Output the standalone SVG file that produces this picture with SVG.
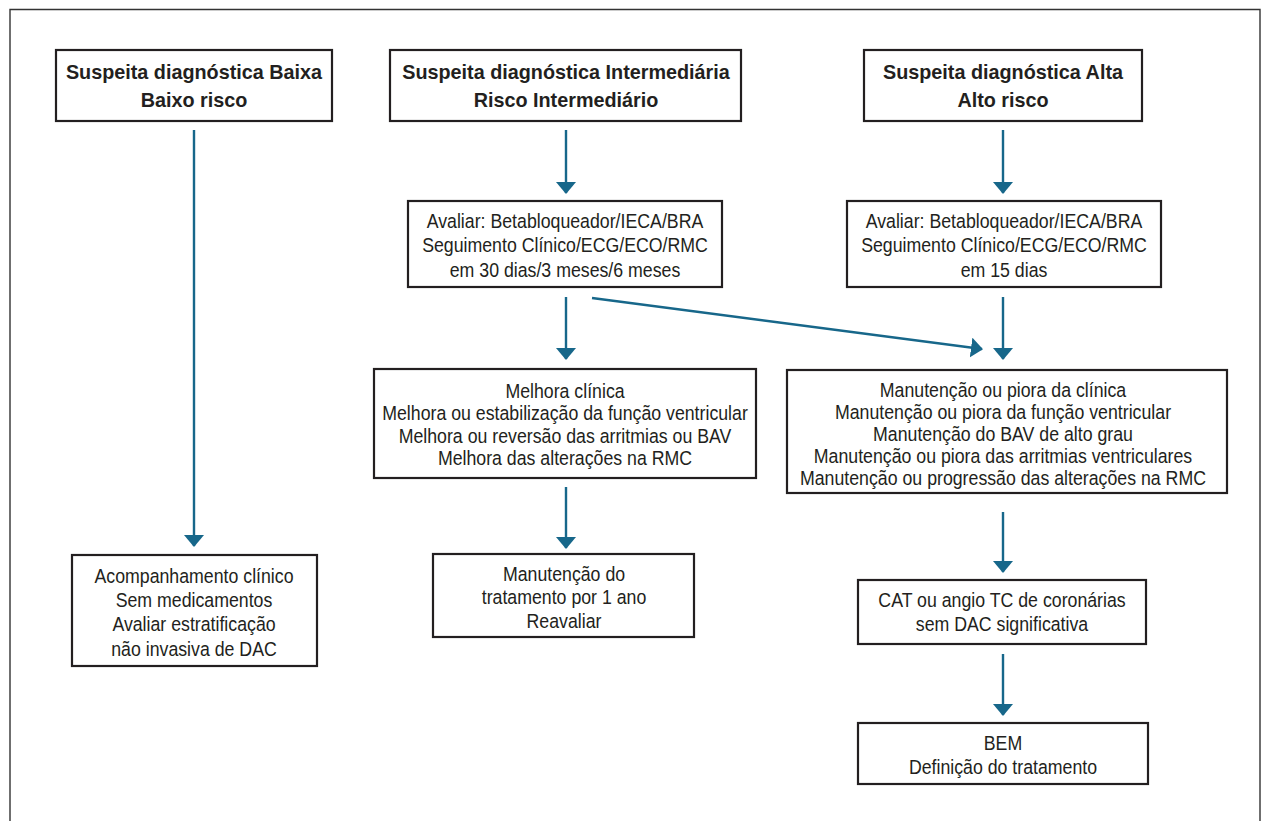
<svg xmlns="http://www.w3.org/2000/svg" width="1267" height="821" viewBox="0 0 1267 821">
  <style>
    .box { fill: #fff; stroke: #231f20; stroke-width: 2.2; }
    .t { font-family: "Liberation Sans", Arial, sans-serif; font-size: 19.5px; fill: #231f20; text-anchor: middle; }
    .b { font-family: "Liberation Sans", Arial, sans-serif; font-size: 19.8px; font-weight: bold; fill: #231f20; text-anchor: middle; }
    .c { stroke: #17678a; stroke-width: 2.4; fill: none; marker-end: url(#ah); }
  </style>
  <defs>
    <marker id="ah" viewBox="0 0 12 20" refX="11" refY="10" markerWidth="12" markerHeight="20" markerUnits="userSpaceOnUse" orient="auto">
      <path d="M0,0 L12,10 L0,20 Z" fill="#17678a"/>
    </marker>
  </defs>
  <rect width="1267" height="821" fill="#fff"/>
  <!-- outer frame -->
  <path d="M10,821 V9.5 H1260 V821" fill="none" stroke="#333" stroke-width="1.4"/>

  <g id="connectors">
    <line class="c" x1="194" y1="130" x2="194" y2="546"/>
    <line class="c" x1="566" y1="130" x2="566" y2="193"/>
    <line class="c" x1="1003" y1="130" x2="1003" y2="193"/>
    <line class="c" x1="566" y1="297" x2="566" y2="359"/>
    <line class="c" x1="1003" y1="297" x2="1003" y2="359"/>
    <line class="c" x1="592" y1="298" x2="982" y2="349"/>
    <line class="c" x1="566" y1="487" x2="566" y2="548"/>
    <line class="c" x1="1003" y1="512" x2="1003" y2="572"/>
    <line class="c" x1="1003" y1="654" x2="1003" y2="715"/>
  </g>

  <g id="n-baixa">
    <rect class="box" x="56" y="50" width="276" height="71"/>
    <text class="b" x="194" y="79">Suspeita diagnóstica Baixa</text>
    <text class="b" x="194" y="107">Baixo risco</text>
  </g>
  <g id="n-intermediaria">
    <rect class="box" x="390" y="50" width="351" height="71"/>
    <text class="b" x="566" y="79">Suspeita diagnóstica Intermediária</text>
    <text class="b" x="566" y="107">Risco Intermediário</text>
  </g>
  <g id="n-alta">
    <rect class="box" x="864" y="50" width="278" height="71"/>
    <text class="b" x="1003" y="79">Suspeita diagnóstica Alta</text>
    <text class="b" x="1003" y="107">Alto risco</text>
  </g>
  <g id="n-avaliar-int">
    <rect class="box" x="408" y="201" width="314" height="86"/>
    <text class="t" transform="translate(565 228) scale(0.91 1)">Avaliar: Betabloqueador/IECA/BRA</text>
    <text class="t" transform="translate(565 252) scale(0.91 1)">Seguimento Clínico/ECG/ECO/RMC</text>
    <text class="t" transform="translate(565 277) scale(0.91 1)">em 30 dias/3 meses/6 meses</text>
  </g>
  <g id="n-avaliar-alta">
    <rect class="box" x="847" y="201" width="314" height="86"/>
    <text class="t" transform="translate(1004 228) scale(0.91 1)">Avaliar: Betabloqueador/IECA/BRA</text>
    <text class="t" transform="translate(1004 252) scale(0.91 1)">Seguimento Clínico/ECG/ECO/RMC</text>
    <text class="t" transform="translate(1004 277) scale(0.91 1)">em 15 dias</text>
  </g>
  <g id="n-melhora">
    <rect class="box" x="374" y="369" width="382" height="109"/>
    <text class="t" transform="translate(565 398) scale(0.91 1)">Melhora clínica</text>
    <text class="t" transform="translate(565 420) scale(0.91 1)">Melhora ou estabilização da função ventricular</text>
    <text class="t" transform="translate(565 443) scale(0.91 1)">Melhora ou reversão das arritmias ou BAV</text>
    <text class="t" transform="translate(565 465) scale(0.91 1)">Melhora das alterações na RMC</text>
  </g>
  <g id="n-manutencao-piora">
    <rect class="box" x="787" y="370" width="440" height="123"/>
    <text class="t" transform="translate(1003 397) scale(0.91 1)">Manutenção ou piora da clínica</text>
    <text class="t" transform="translate(1003 419) scale(0.91 1)">Manutenção ou piora da função ventricular</text>
    <text class="t" transform="translate(1003 441) scale(0.91 1)">Manutenção do BAV de alto grau</text>
    <text class="t" transform="translate(1003 463) scale(0.91 1)">Manutenção ou piora das arritmias ventriculares</text>
    <text class="t" transform="translate(1003 485) scale(0.91 1)">Manutenção ou progressão das alterações na RMC</text>
  </g>
  <g id="n-acompanhamento">
    <rect class="box" x="72" y="555" width="245" height="111"/>
    <text class="t" transform="translate(194 583) scale(0.91 1)">Acompanhamento clínico</text>
    <text class="t" transform="translate(194 607) scale(0.91 1)">Sem medicamentos</text>
    <text class="t" transform="translate(194 631) scale(0.91 1)">Avaliar estratificação</text>
    <text class="t" transform="translate(194 656) scale(0.91 1)">não invasiva de DAC</text>
  </g>
  <g id="n-manutencao-tratamento">
    <rect class="box" x="433" y="554" width="261" height="83"/>
    <text class="t" transform="translate(564 581) scale(0.91 1)">Manutenção do</text>
    <text class="t" transform="translate(564 604) scale(0.91 1)">tratamento por 1 ano</text>
    <text class="t" transform="translate(564 628) scale(0.91 1)">Reavaliar</text>
  </g>
  <g id="n-cat">
    <rect class="box" x="858" y="580" width="288" height="64"/>
    <text class="t" transform="translate(1002 607) scale(0.91 1)">CAT ou angio TC de coronárias</text>
    <text class="t" transform="translate(1002 631) scale(0.91 1)">sem DAC significativa</text>
  </g>
  <g id="n-bem">
    <rect class="box" x="858" y="723" width="290" height="61"/>
    <text class="t" transform="translate(1003 750) scale(0.91 1)">BEM</text>
    <text class="t" transform="translate(1003 774) scale(0.91 1)">Definição do tratamento</text>
  </g>
</svg>
